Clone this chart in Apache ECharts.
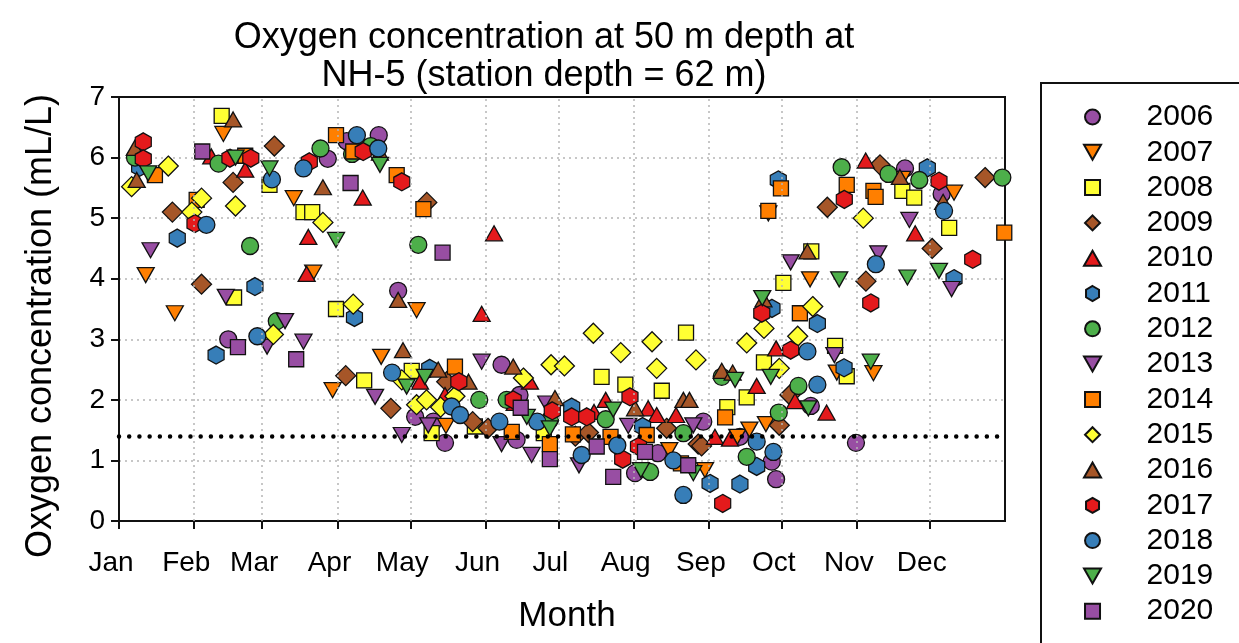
<!DOCTYPE html>
<html lang="en">
<head>
<meta charset="UTF-8">
<title>Oxygen at NH-5</title>
<script src="https://cdn.jsdelivr.net/npm/echarts@6/dist/echarts.min.js"></script>
<style>
  html, body { margin: 0; padding: 0; background: #fff; }
  #chart { width: 1239px; height: 643px; }
</style>
</head>
<body>
<div id="chart"></div>
<script>
// month ticks (day of year where each month starts)
const monthStarts = [0, 31, 59, 90, 120, 151, 181, 212, 243, 273, 304, 334];
const monthNames = ['Jan', 'Feb', 'Mar', 'Apr', 'May', 'Jun', 'Jul', 'Aug', 'Sep', 'Oct', 'Nov', 'Dec'];
const years = ['2006', '2007', '2008', '2009', '2010', '2011', '2012', '2013', '2014', '2015', '2016', '2017', '2018', '2019', '2020'];
const hypoxiaLevel = 1.4;

// [day of year, oxygen mL/L]
const y2006 = [[86,5.98],[93.8,6.27],[107,6.37],[115,3.8],[45,3.0],[122,1.72],[129.5,1.64],[134.3,1.29],[157.6,2.58],[163.8,1.34],[165,2.08],[240.7,1.64],[222,1.12],[212.6,0.79],[255.8,1.39],[268.9,0.98],[270.7,0.69],[285,1.9],[303.6,1.29],[323.8,5.82],[338.9,5.4]];
const y2007 = [[11,4.06],[23,3.43],[43,6.39],[72,5.33],[80,4.1],[122.6,3.48],[88,2.16],[108,2.71],[134.7,1.57],[226.7,1.17],[241.4,0.84],[254.7,1.39],[259.7,1.51],[266.5,1.6],[284.7,3.99],[267.5,5.08],[295.7,2.45],[310.8,2.44],[344,5.42],[322.7,5.65]];
const y2008 = [[42.3,6.69],[62,5.55],[76,5.1],[79.6,5.1],[47.4,3.69],[89.4,3.5],[101,2.32],[120.6,2.48],[128.8,1.45],[146.6,1.56],[175,1.45],[198.8,2.38],[208.6,2.25],[233.6,3.11],[223.6,2.15],[250.6,1.88],[258.6,2.04],[265.7,2.62],[273.7,3.93],[285.2,4.45],[295,2.89],[299.8,2.39],[322.7,5.45],[327.6,5.34],[342,4.84]];
const y2009 = [[22,5.1],[34,3.91],[47,5.59],[64,6.19],[93.4,2.4],[112,1.86],[126.8,5.26],[135,2.3],[145.7,1.64],[152,1.53],[188,1.4],[193.4,1.46],[225.6,1.53],[238.6,1.27],[240,1.24],[272,1.58],[276.4,2.08],[291.8,5.18],[307.7,3.96],[313.5,5.88],[335,4.5],[356.8,5.67]];
const y2010 = [[38,6.02],[52,5.8],[78,4.69],[77.3,4.08],[100.4,5.34],[149.4,3.42],[154.5,4.75],[124,2.3],[134.3,2.08],[163,1.95],[169.3,2.3],[195.7,1.8],[200.5,2.0],[218,1.86],[221.5,1.75],[229.5,1.75],[245.5,1.39],[251.7,1.36],[262.7,2.23],[270.7,2.85],[278.5,1.98],[291.5,1.79],[307.6,5.95],[328,4.75]];
const y2011 = [[8.5,5.84],[24,4.67],[40,2.74],[56,3.87],[97,3.36],[128,2.52],[186.5,1.88],[215.7,1.56],[243.5,0.62],[255.8,0.61],[262.7,0.9],[269,3.51],[271.6,5.63],[287.7,3.26],[298.7,2.53],[333,5.83],[344,4.0]];
const y2012 = [[6.6,6.0],[41,5.9],[54,4.54],[65,3.3],[83,6.15],[96,6.06],[103.7,6.19],[123.3,4.56],[148.4,2.0],[159.7,2.0],[177.5,1.67],[200.5,1.68],[218.8,0.81],[232.5,1.45],[248.3,2.38],[258.6,1.06],[271.8,1.79],[279.9,2.23],[297.7,5.84],[317,5.73],[329.7,5.63],[363.9,5.67]];
const y2013 = [[13,4.47],[44,3.7],[61,2.88],[68.4,3.3],[76,2.96],[105.5,2.05],[116.5,1.42],[127.4,1.58],[149.4,2.63],[157.6,1.27],[170,1.09],[176,1.94],[189.5,0.92],[209.8,1.57],[236.6,1.58],[276.7,4.27],[294.7,2.74],[312.8,4.42],[325.6,4.97],[343,3.83]];
const y2014 = [[14.8,5.71],[32,5.3],[52,6.03],[89.4,6.37],[96.5,6.1],[114.4,5.71],[125.4,5.15],[138.4,2.55],[161.8,1.47],[177.5,1.27],[187,1.43],[202.5,1.39],[217.4,1.42],[231.5,0.95],[249.7,1.71],[267.5,5.12],[272.7,5.49],[280.5,3.43],[299.8,5.55],[310.8,5.45],[311.7,5.35],[364.7,4.76]];
const y2015 = [[5.2,5.52],[20.3,5.86],[30,5.1],[34,5.33],[48,5.2],[63.6,3.08],[84,4.93],[96.5,3.58],[116.5,2.33],[122.6,1.92],[126.7,2.0],[132.5,1.88],[138.4,2.06],[166.6,2.36],[178,2.58],[183.5,2.56],[195.4,3.1],[206.7,2.78],[219.6,2.96],[221.5,2.52],[237.7,2.66],[258.6,2.94],[265.7,3.18],[272,2.52],[279.6,3.05],[285.8,3.54],[306.6,5.0]];
const y2016 = [[6.5,6.16],[7.3,5.63],[47,6.63],[84,5.51],[107.5,6.08],[115,3.65],[117,2.82],[131.5,2.5],[144,2.3],[162.4,2.55],[179.6,2.03],[212.6,1.86],[232.5,2.0],[235,2.0],[248.3,2.48],[252.8,2.45],[265.5,3.66],[283.6,4.45],[321.7,5.68],[339.5,5.27]];
const y2017 = [[10,6.26],[10,5.98],[31.3,4.91],[45.7,5.99],[54.3,5.99],[78.4,5.93],[100.6,6.1],[116.5,5.6],[140,2.3],[162.4,2.0],[178.5,1.82],[186.5,1.72],[192.7,1.72],[207.5,1.02],[210.5,2.05],[214,1.23],[248.7,0.29],[264.8,3.43],[276.7,2.82],[298.8,5.31],[309.7,3.6],[337.8,5.61],[351.7,4.32]];
const y2018 = [[36,4.89],[57,3.05],[63,5.64],[76,5.82],[98,6.37],[106.8,6.15],[112.5,2.45],[137,1.89],[140.5,1.75],[156.7,1.64],[172.3,1.64],[190.6,1.09],[205.3,1.25],[228.4,1.0],[232.5,0.43],[262.7,1.31],[269.6,1.14],[283.6,2.8],[287.7,2.25],[311.8,4.24],[339.9,5.12]];
const y2019 = [[12,5.74],[48,6.0],[62,5.82],[89.4,4.64],[107.5,5.88],[118.5,2.22],[126,2.38],[168,1.72],[177.5,1.53],[203.6,1.84],[215,0.84],[236.6,0.79],[253.8,2.33],[265,3.68],[268.5,2.38],[284,1.86],[296.7,3.99],[309.7,2.63],[324.8,4.02],[337.8,4.13]];
const y2020 = [[34.3,6.1],[49,2.87],[73,2.67],[95.4,5.58],[133.3,4.43],[165.5,1.87],[177.5,1.02],[196.8,1.23],[203.6,0.73],[216.7,1.14],[234.5,0.92]];

const yearData = [y2006, y2007, y2008, y2009, y2010, y2011, y2012, y2013, y2014, y2015, y2016, y2017, y2018, y2019, y2020];

// marker shapes
const CIRCLE = 'path://M0,10A10,10,0,1,1,20,10A10,10,0,1,1,0,10Z';
const TRI_DOWN = 'path://M0,0L10,0L5,8.8Z';
const SQUARE = 'path://M0,0L10,0L10,10L0,10Z';
const DIAMOND = 'path://M5,0L10,5L5,10L0,5Z';
const TRI_UP = 'path://M5,0L10,8.8L0,8.8Z';
const HEXAGON = 'path://M8.66,0L17.32,5L17.32,15L8.66,20L0,15L0,5Z';

const PURPLE = '#984ea3', ORANGE = '#ff7f00', YELLOW = '#ffff33', BROWN = '#a65628',
      RED = '#e41a1c', BLUE = '#377eb8', GREEN = '#4daf4a';

const styles = [
  [CIRCLE, PURPLE, [17, 17]],
  [TRI_DOWN, ORANGE, [17, 15]],
  [SQUARE, YELLOW, [15, 15]],
  [DIAMOND, BROWN, [20, 20]],
  [TRI_UP, RED, [17, 15]],
  [HEXAGON, BLUE, [16, 18]],
  [CIRCLE, GREEN, [17, 17]],
  [TRI_DOWN, PURPLE, [17, 15]],
  [SQUARE, ORANGE, [15, 15]],
  [DIAMOND, YELLOW, [20, 20]],
  [TRI_UP, BROWN, [17, 15]],
  [HEXAGON, RED, [16, 18]],
  [CIRCLE, BLUE, [17, 17]],
  [TRI_DOWN, GREEN, [17, 15]],
  [SQUARE, PURPLE, [15, 15]]
];

const FONT = '"Liberation Sans", Arial, sans-serif';

var chart = echarts.init(document.getElementById('chart'));

var series = [{
  // vertical month grid lines
  type: 'scatter',
  data: [],
  silent: true,
  z: 1,
  markLine: {
    silent: true,
    symbol: 'none',
    label: { show: false },
    lineStyle: { color: '#b5b5b5', width: 1.5, type: [2, 4] },
    data: monthStarts.slice(1).map(function (d) { return { xAxis: d }; })
  }
}];

years.forEach(function (y, i) {
  series.push({
    name: y,
    type: 'scatter',
    data: yearData[i],
    symbol: styles[i][0],
    symbolSize: styles[i][2],
    itemStyle: { color: styles[i][1], borderColor: '#111', borderWidth: 1.3, opacity: 1 },
    emphasis: { disabled: true }
  });
});

// hypoxia threshold
series.push({
  type: 'scatter',
  data: [],
  silent: true,
  z: 10,
  markLine: {
    silent: true,
    symbol: 'none',
    label: { show: false },
    lineStyle: { color: '#000', width: 4.5, type: [0.01, 10.2], cap: 'round' },
    data: [{ yAxis: hypoxiaLevel }]
  }
});

var option = {
  animation: false,
  backgroundColor: '#fff',
  title: {
    text: 'Oxygen concentration at 50 m depth at\nNH-5 (station depth = 62 m)',
    left: 539,
    top: 14,
    textAlign: 'center',
    textStyle: { fontFamily: FONT, fontSize: 36, fontWeight: 'normal', color: '#000', lineHeight: 38 }
  },
  legend: {
    orient: 'vertical',
    left: 1041,
    top: 83,
    height: 800,
    data: years,
    selectedMode: false,
    padding: [19, 120, 60, 42],
    borderColor: '#111',
    borderWidth: 2,
    itemWidth: 98,
    itemHeight: 15,
    itemGap: 5.3,
    symbolKeepAspect: true,
    textStyle: { fontFamily: FONT, fontSize: 30, color: '#000', lineHeight: 30 }
  },
  grid: {
    left: 119, top: 97, right: 234, bottom: 122,
    show: true, borderColor: '#111', borderWidth: 2
  },
  xAxis: {
    type: 'value',
    min: 0,
    max: 365,
    name: 'Month',
    nameLocation: 'middle',
    nameGap: 78,
    nameTextStyle: { fontFamily: FONT, fontSize: 35, color: '#000', padding: [0, 0, 0, 10] },
    axisLine: { lineStyle: { color: '#111', width: 2 } },
    axisTick: { show: true, length: 8, customValues: monthStarts, lineStyle: { color: '#111', width: 2 } },
    axisLabel: {
      customValues: monthStarts,
      margin: 28,
      fontFamily: FONT, fontSize: 28, color: '#000',
      padding: [0, 16, 0, 0],
      formatter: function (v) {
        var i = monthStarts.indexOf(Math.round(v));
        return i >= 0 ? monthNames[i] : '';
      }
    },
    splitLine: { show: false }
  },
  yAxis: {
    type: 'value',
    min: 0,
    max: 7,
    interval: 1,
    name: 'Oxygen concentration (mL/L)',
    nameLocation: 'middle',
    nameGap: 60,
    nameTextStyle: { fontFamily: FONT, fontSize: 36, color: '#000', padding: [0, 34, 0, 0] },
    axisLine: { show: true, lineStyle: { color: '#111', width: 2 } },
    axisTick: { show: true, length: 8, lineStyle: { color: '#111', width: 2 } },
    axisLabel: { margin: 14, fontFamily: FONT, fontSize: 28, color: '#000' },
    splitLine: { show: true, showMinLine: false, showMaxLine: false, lineStyle: { color: '#b5b5b5', width: 1.5, type: [2, 4] } }
  },
  series: series
};

chart.setOption(option);
</script>
</body>
</html>
